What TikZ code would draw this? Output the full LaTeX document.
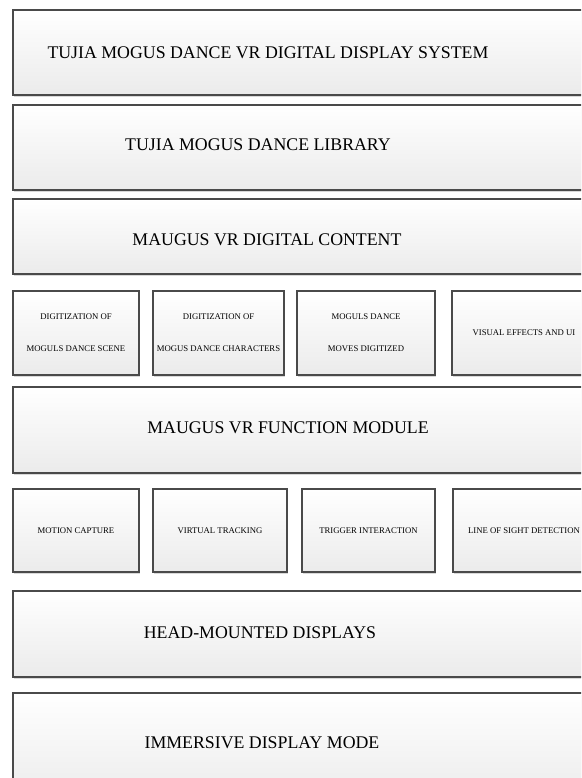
\documentclass[tikz,border=0pt]{standalone}
\usepackage{fontspec}
\setmainfont{Liberation Serif}
\usetikzlibrary{shadows}
\definecolor{edge}{HTML}{4A4A4A}
\definecolor{fillbot}{HTML}{EBEBEB}
\tikzset{
  panel/.style={draw=edge, line width=1.6pt, top color=white, bottom color=fillbot,
    drop shadow={shadow xshift=1.2pt, shadow yshift=-2pt, opacity=0.3},
    anchor=north west, inner sep=0pt, outer sep=0pt},
  bigtxt/.style={font=\fontsize{17.8}{20}\selectfont, inner sep=0pt},
  smalltxt/.style={font=\fontsize{8.7}{32}\selectfont, align=center, inner sep=0pt},
}
\begin{document}
\begin{tikzpicture}[x=1pt,y=-1pt]
\useasboundingbox (0,0) rectangle (581,778);
\clip (0,0) rectangle (581,778);
% wide panels
\node[panel, minimum width=620pt, minimum height=85pt] (sys) at (13,10) {};
\node[bigtxt] (sysT) at (268,53) {TUJIA MOGUS DANCE VR DIGITAL DISPLAY SYSTEM};
\node[panel, minimum width=620pt, minimum height=85pt] (lib) at (13,105) {};
\node[bigtxt] (libT) at (258,145) {TUJIA MOGUS DANCE LIBRARY};
\node[panel, minimum width=620pt, minimum height=75pt] (cont) at (13,199) {};
\node[bigtxt] (contT) at (267,240) {MAUGUS VR DIGITAL CONTENT};
% row 1
\node[panel, minimum width=126pt, minimum height=84pt, smalltxt] (c1) at (13,291) {DIGITIZATION OF\\MOGULS DANCE SCENE};
\node[panel, minimum width=131pt, minimum height=84pt, smalltxt] (c2) at (153,291) {DIGITIZATION OF\\MOGUS DANCE CHARACTERS};
\node[panel, minimum width=138pt, minimum height=84pt, smalltxt] (c3) at (297,291) {MOGULS DANCE\\MOVES DIGITIZED};
\node[panel, minimum width=144pt, minimum height=84pt, smalltxt] (c4) at (452,291) {VISUAL EFFECTS AND UI};
% function module
\node[panel, minimum width=620pt, minimum height=86pt] (func) at (13,387) {};
\node[bigtxt] (funcT) at (288,428) {MAUGUS VR FUNCTION MODULE};
% row 2
\node[panel, minimum width=126pt, minimum height=83pt, smalltxt] (f1) at (13,489) {MOTION CAPTURE};
\node[panel, minimum width=134pt, minimum height=83pt, smalltxt] (f2) at (153,489) {VIRTUAL TRACKING};
\node[panel, minimum width=133pt, minimum height=83pt, smalltxt] (f3) at (302,489) {TRIGGER INTERACTION};
\node[panel, minimum width=142pt, minimum height=83pt, smalltxt] (f4) at (453,489) {LINE OF SIGHT DETECTION};
% bottom panels
\node[panel, minimum width=620pt, minimum height=86pt] (hmd) at (13,591) {};
\node[bigtxt] (hmdT) at (260,633) {HEAD-MOUNTED DISPLAYS};
\node[panel, minimum width=620pt, minimum height=110pt] (imm) at (13,693) {};
\node[bigtxt] (immT) at (262,743) {IMMERSIVE DISPLAY MODE};
\end{tikzpicture}
\end{document}
